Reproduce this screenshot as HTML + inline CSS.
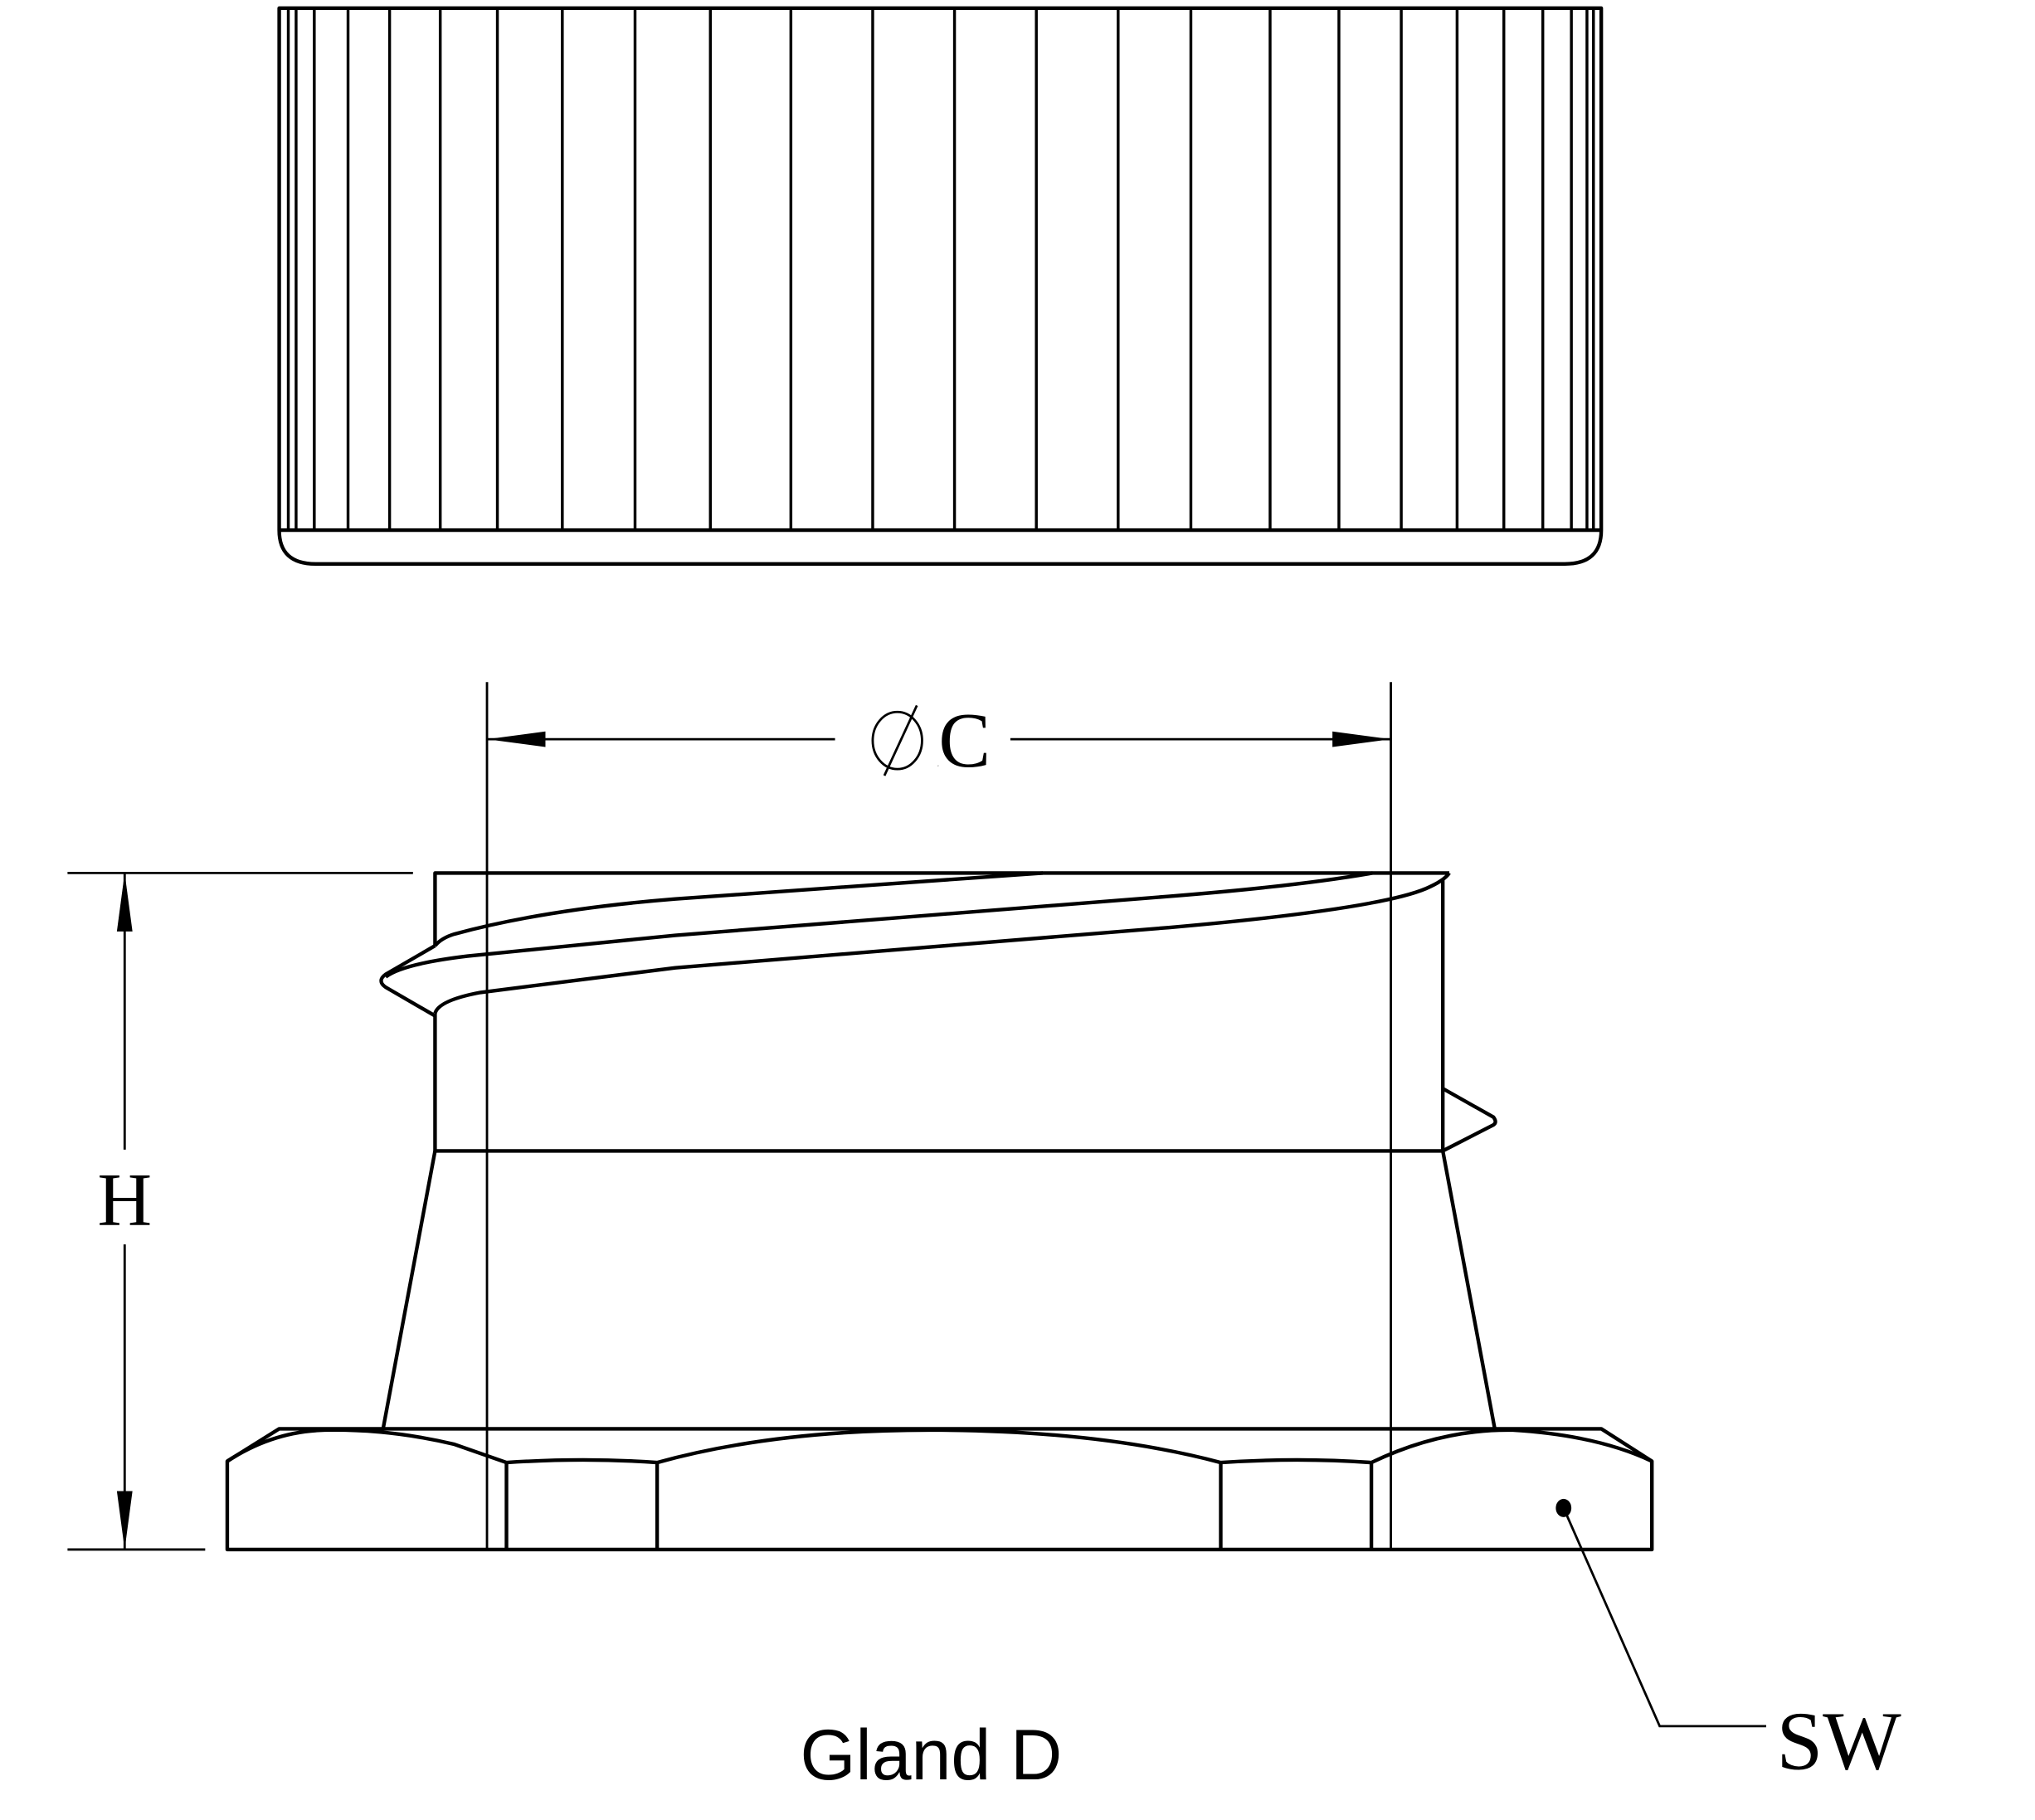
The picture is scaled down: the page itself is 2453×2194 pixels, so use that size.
<!DOCTYPE html>
<html><head><meta charset="utf-8"><style>html,body{margin:0;padding:0;background:#fff}svg{display:block}</style></head>
<body>
<svg width="2453" height="2194" viewBox="0 0 1567 1401" xmlns="http://www.w3.org/2000/svg">
<g fill="none" stroke="#000" stroke-width="2.8" stroke-linejoin="round">
<path d="M215,6 H1233 V408 Q1233,434 1205,434 H243 Q215,434 215,408 Z"/>
<line x1="215" y1="408" x2="1233" y2="408"/>
<g stroke-width="2.2">
<path d="M222,6V408M228,6V408M242,6V408M268,6V408M300,6V408M339,6V408M383,6V408M433,6V408M489,6V408M547,6V408M609,6V408M672,6V408M735,6V408M798,6V408M861,6V408M917,6V408M978,6V408M1031,6V408M1079,6V408M1122,6V408M1158,6V408M1188,6V408M1210,6V408M1222,6V408M1227,6V408"/>
</g>
<path d="M335,728 V672 H1116 M1111,677 V886 M335,780 V886 H1111"/>
<path d="M335,886 L295,1100 M1111,886 L1151,1100"/>
<path d="M335,728 L297,750 Q290,755 297,760 L335,782"/>
<path d="M335,728 Q340,722 350,719 Q420,700 520,692 L803,672"/>
<path d="M297,752 Q310,742 360,736 L520,720 L900,690 Q1000,682 1057,672"/>
<path d="M335,780 Q338,770 370,764 L520,745 L900,714 Q1060,700 1098,684 Q1112,678 1116,672"/>
<path d="M1111,838 L1150,860 Q1153,864 1150,866 L1111,886"/>
<path d="M215,1100 H1233 L1272,1125 V1193 H175 V1125 Z"/>
<path d="M175,1125 Q210,1102 250,1101 Q300,1100 350,1112 L390,1126 Q450,1122 506,1126 Q600,1100 725,1101 Q850,1102 940,1126 Q1000,1122 1056,1126 Q1110,1100 1165,1101 Q1230,1105 1272,1125"/>
<path d="M390,1126V1193M506,1126V1193M940,1126V1193M1056,1126V1193"/>
</g>
<g fill="none" stroke="#000" stroke-width="1.8">
<path d="M375,525V1193M1071,525V1193"/>
<path d="M375,569H643M778,569H1071"/>
<path d="M52,672H318M52,1193H158"/>
<path d="M96,672V885M96,958V1193"/>
<path d="M1204,1161L1278,1329H1360"/>
</g>
<g fill="#000">
<polygon points="375,569 420,563 420,575"/>
<polygon points="1071,569 1026,563 1026,575"/>
<polygon points="96,672 90,717 102,717"/>
<polygon points="96,1193 90,1148 102,1148"/>
<ellipse cx="1204" cy="1161" rx="6" ry="7"/>
</g>
<g fill="none" stroke="#000" stroke-width="1.8"><ellipse cx="691" cy="570" rx="19" ry="22"/><line x1="706" y1="543" x2="681" y2="597"/></g>
<text x="722" y="590" font-family="Liberation Serif, serif" font-size="60" fill="#000"><tspan font-size="1">Ø</tspan>C</text>
<text x="96" y="943" text-anchor="middle" font-family="Liberation Serif, serif" font-size="58" fill="#000">H</text>
<text x="1368" y="1362" font-family="Liberation Serif, serif" font-size="64" fill="#000">SW</text>
<text x="717" y="1370" text-anchor="middle" font-family="Liberation Sans, sans-serif" font-size="55" fill="#000">Gland D</text>
</svg>
</body></html>
